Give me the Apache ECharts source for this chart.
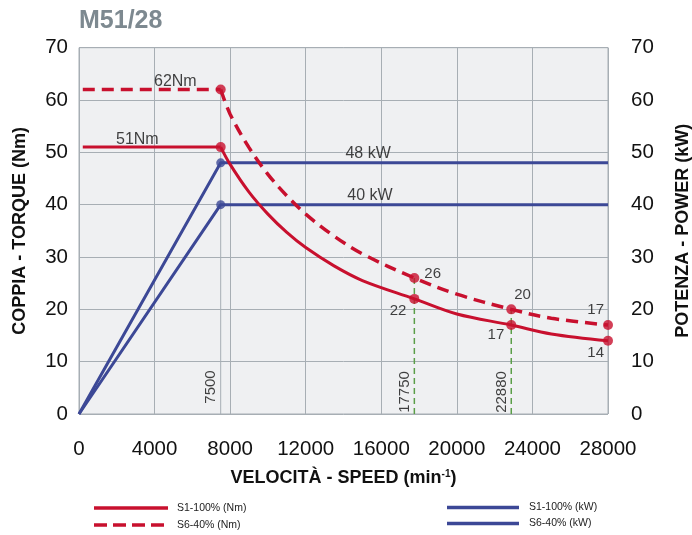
<!DOCTYPE html>
<html>
<head>
<meta charset="utf-8">
<script src="https://cdn.jsdelivr.net/npm/echarts@6/dist/echarts.min.js"></script>
<style>
  html, body { margin: 0; padding: 0; background: #ffffff; }
  #chart { width: 692px; height: 535px; }
</style>
</head>
<body>
<div id="chart"></div>
<script>
// Motor M51/28 – torque (Nm) and power (kW) versus speed (min^-1)

// Constant-torque segment up to the corner speed
const flatSpeed = [200, 7500];
const s1PeakTorque = 51;
const s6PeakTorque = 62;

// Constant-power (field weakening) torque curves
const s1CurveSpeed = [7500, 8000, 9000, 10000, 11000, 12000, 13500, 15000, 17750, 20000, 22880, 25000, 28000];
const s1CurveTorque = [51, 47.7, 42.4, 38.2, 34.7, 31.8, 28.3, 25.5, 22, 19.1, 17, 15.3, 14];
const s6CurveSpeed = [7500, 8000, 9000, 10000, 11000, 12000, 13500, 15000, 17750, 20000, 22880, 25000, 28000];
const s6CurveTorque = [62, 57.3, 50.9, 45.8, 41.7, 38.2, 34, 30.6, 26, 22.9, 20, 18.3, 17];

// Power curves
const powerSpeed = [0, 7500, 28000];
const s1Power = [0, 40, 40];
const s6Power = [0, 48, 48];

// Highlighted operating points
const cornerSpeed = 7500;
const markSpeeds = [17750, 22880, 28000];
const s1MarkTorque = [22, 17, 14];
const s6MarkTorque = [26, 20, 17];

// Speeds with a vertical reference line (and the torque where it ends)
const refSpeeds = [17750, 22880];
const refTop = [26, 20];

// Axis ranges
const speedMin = 0, speedMax = 28000, speedStep = 4000;
const valMin = 0, valMax = 70, valStep = 10;

const FONT = '"Liberation Sans", Arial, Helvetica, sans-serif';
const RED = '#c8102e';
const BLUE = '#3c4896';
const GREEN = '#5a9e48';
const GRID = '#a7aeb4';

const zip = (xs, ys) => xs.map((x, i) => [x, ys[i]]);

const numLabel = (position, offset) => ({
  show: true, position, offset,
  fontFamily: FONT, fontSize: 15, color: '#111',
  formatter: p => String(p.value[1])
});

const s1Points = [
  { value: [cornerSpeed, s1PeakTorque],
    label: { show: true, position: 'left', offset: [-52, -8], fontFamily: FONT, fontSize: 16, color: '#111',
             formatter: p => p.value[1] + 'Nm' } },
  { value: [markSpeeds[0], s1MarkTorque[0]], label: numLabel('left', [2, 12]) },
  { value: [markSpeeds[1], s1MarkTorque[1]], label: numLabel('left', [3, 10]) },
  { value: [markSpeeds[2], s1MarkTorque[2]], label: numLabel('left', [6, 12]) }
];
const s6Points = [
  { value: [cornerSpeed, s6PeakTorque],
    label: { show: true, position: 'left', offset: [-14, -8], fontFamily: FONT, fontSize: 16, color: '#111',
             formatter: p => p.value[1] + 'Nm' } },
  { value: [markSpeeds[0], s6MarkTorque[0]], label: numLabel('right', [0, -4]) },
  { value: [markSpeeds[1], s6MarkTorque[1]], label: numLabel('right', [-7, -14]) },
  { value: [markSpeeds[2], s6MarkTorque[2]], label: numLabel('left', [6, -15]) }
];

// Vertical speed labels; the offset is expressed in the rotated text frame
const speedLabels = [cornerSpeed].concat(refSpeeds).map((s, i) => ({
  value: [s, 0],
  label: {
    show: true, position: 'inside', rotate: 90,
    offset: i === 0 ? [27, -9.5] : [22, -9.5],
    fontFamily: FONT, fontSize: 15, color: '#111',
    formatter: p => String(p.value[0])
  }
}));

const kwLabels = [
  { value: [15300, s6Power[2]] },
  { value: [15400, s1Power[2]] }
];

const option = {
  animation: false,
  backgroundColor: '#ffffff',
  title: {
    text: 'M51/28', left: 79, top: 9, padding: 0,
    textStyle: { fontFamily: FONT, fontSize: 25, fontWeight: 'bold', color: '#7d8990' }
  },
  grid: {
    left: 79, right: 84, top: 47.7, bottom: 121,
    show: true, backgroundColor: '#eff0f2', borderColor: GRID, borderWidth: 1,
    containLabel: false, outerBoundsMode: 'none'
  },
  xAxis: {
    type: 'value', min: speedMin, max: speedMax, interval: speedStep,
    name: 'VELOCITÀ - SPEED (min{sup|-1})',
    nameLocation: 'middle', nameGap: 55,
    nameTextStyle: {
      fontFamily: FONT, fontSize: 18, fontWeight: 'bold', color: '#111',
      rich: { sup: { fontFamily: FONT, fontSize: 10, fontWeight: 'bold', color: '#111', verticalAlign: 'top', padding: [0, 0, 8, 0] } }
    },
    axisLine: { show: false }, axisTick: { show: false },
    axisLabel: { fontFamily: FONT, fontSize: 20.5, color: '#111', margin: 25, formatter: v => String(v) },
    splitLine: { show: true, lineStyle: { color: GRID, width: 1 } }
  },
  yAxis: [
    {
      type: 'value', min: valMin, max: valMax, interval: valStep, position: 'left',
      name: 'COPPIA - TORQUE (Nm)', nameLocation: 'middle', nameGap: 50, nameRotate: 90,
      nameTextStyle: { fontFamily: FONT, fontSize: 18, fontWeight: 'bold', color: '#111' },
      axisLine: { show: false }, axisTick: { show: false },
      axisLabel: { fontFamily: FONT, fontSize: 20.5, color: '#111', margin: 11 },
      splitLine: { show: true, lineStyle: { color: GRID, width: 1 } }
    },
    {
      type: 'value', min: valMin, max: valMax, interval: valStep, position: 'right',
      name: 'POTENZA - POWER (kW)', nameLocation: 'middle', nameGap: 66, nameRotate: 90,
      nameTextStyle: { fontFamily: FONT, fontSize: 18, fontWeight: 'bold', color: '#111' },
      axisLine: { show: false }, axisTick: { show: false },
      axisLabel: { fontFamily: FONT, fontSize: 20.5, color: '#111', margin: 23 },
      splitLine: { show: false }
    }
  ],
  series: [
    // corner-speed reference line
    { type: 'line', silent: true, symbol: 'none', z: 1,
      data: [[cornerSpeed, 0], [cornerSpeed, s6PeakTorque]],
      lineStyle: { color: GRID, width: 1 } },
    // dashed green reference lines
    ...refSpeeds.map((s, i) => ({
      type: 'line', silent: true, symbol: 'none', z: 1,
      data: [[s, 0], [s, refTop[i]]],
      lineStyle: { color: GREEN, width: 1.5, type: [6, 4] }
    })),
    // power
    { name: 'S1-100% (kW)', type: 'line', yAxisIndex: 1, symbol: 'none', z: 2,
      data: zip(powerSpeed, s1Power), lineStyle: { color: BLUE, width: 3 } },
    { name: 'S6-40% (kW)', type: 'line', yAxisIndex: 1, symbol: 'none', z: 2,
      data: zip(powerSpeed, s6Power), lineStyle: { color: BLUE, width: 3 } },
    { type: 'scatter', yAxisIndex: 1, symbol: 'circle', symbolSize: 9, z: 3,
      itemStyle: { color: BLUE },
      data: [[powerSpeed[1], s6Power[1]], [powerSpeed[1], s1Power[1]]] },
    { type: 'scatter', yAxisIndex: 1, symbolSize: 0, z: 6, data: kwLabels,
      label: { show: true, position: 'inside', offset: [0, -9], fontFamily: FONT, fontSize: 16, color: '#111',
               formatter: p => p.value[1] + ' kW' } },
    // torque
    { name: 'S1-100% (Nm)', type: 'line', symbol: 'none', z: 4,
      data: zip(flatSpeed, [s1PeakTorque, s1PeakTorque]), lineStyle: { color: RED, width: 3 } },
    { type: 'line', symbol: 'none', z: 4, smooth: 0.35,
      data: zip(s1CurveSpeed, s1CurveTorque), lineStyle: { color: RED, width: 3 } },
    { name: 'S6-40% (Nm)', type: 'line', symbol: 'none', z: 4,
      data: zip(flatSpeed, [s6PeakTorque, s6PeakTorque]), lineStyle: { color: RED, width: 3.5, type: [12, 7] } },
    { type: 'line', symbol: 'none', z: 4, smooth: 0.35,
      data: zip(s6CurveSpeed, s6CurveTorque), lineStyle: { color: RED, width: 3.5, type: [12, 7] } },
    { type: 'scatter', symbol: 'circle', symbolSize: 10, z: 5, itemStyle: { color: RED }, data: s1Points },
    { type: 'scatter', symbol: 'circle', symbolSize: 10, z: 5, itemStyle: { color: RED }, data: s6Points },
    // rotated speed labels
    { type: 'scatter', symbolSize: 0, z: 6, data: speedLabels }
  ],
  graphic: [
    { type: 'line', shape: { x1: 94, y1: 508, x2: 168, y2: 508 }, style: { stroke: RED, lineWidth: 3.5 } },
    { type: 'line', shape: { x1: 94, y1: 525, x2: 168, y2: 525 }, style: { stroke: RED, lineWidth: 3.5, lineDash: [13, 6] } },
    { type: 'text', x: 177, y: 508, style: { text: 'S1-100% (Nm)', font: '10.5px ' + FONT, fill: '#222', textVerticalAlign: 'middle' } },
    { type: 'text', x: 177, y: 525, style: { text: 'S6-40% (Nm)', font: '10.5px ' + FONT, fill: '#222', textVerticalAlign: 'middle' } },
    { type: 'line', shape: { x1: 447, y1: 507.5, x2: 519, y2: 507.5 }, style: { stroke: BLUE, lineWidth: 3.5 } },
    { type: 'line', shape: { x1: 447, y1: 523.5, x2: 519, y2: 523.5 }, style: { stroke: BLUE, lineWidth: 3.5 } },
    { type: 'text', x: 529, y: 507.5, style: { text: 'S1-100% (kW)', font: '10.5px ' + FONT, fill: '#222', textVerticalAlign: 'middle' } },
    { type: 'text', x: 529, y: 523.5, style: { text: 'S6-40% (kW)', font: '10.5px ' + FONT, fill: '#222', textVerticalAlign: 'middle' } }
  ]
};

const chart = echarts.init(document.getElementById('chart'), null, { renderer: 'canvas' });
chart.setOption(option);
</script>
</body>
</html>
